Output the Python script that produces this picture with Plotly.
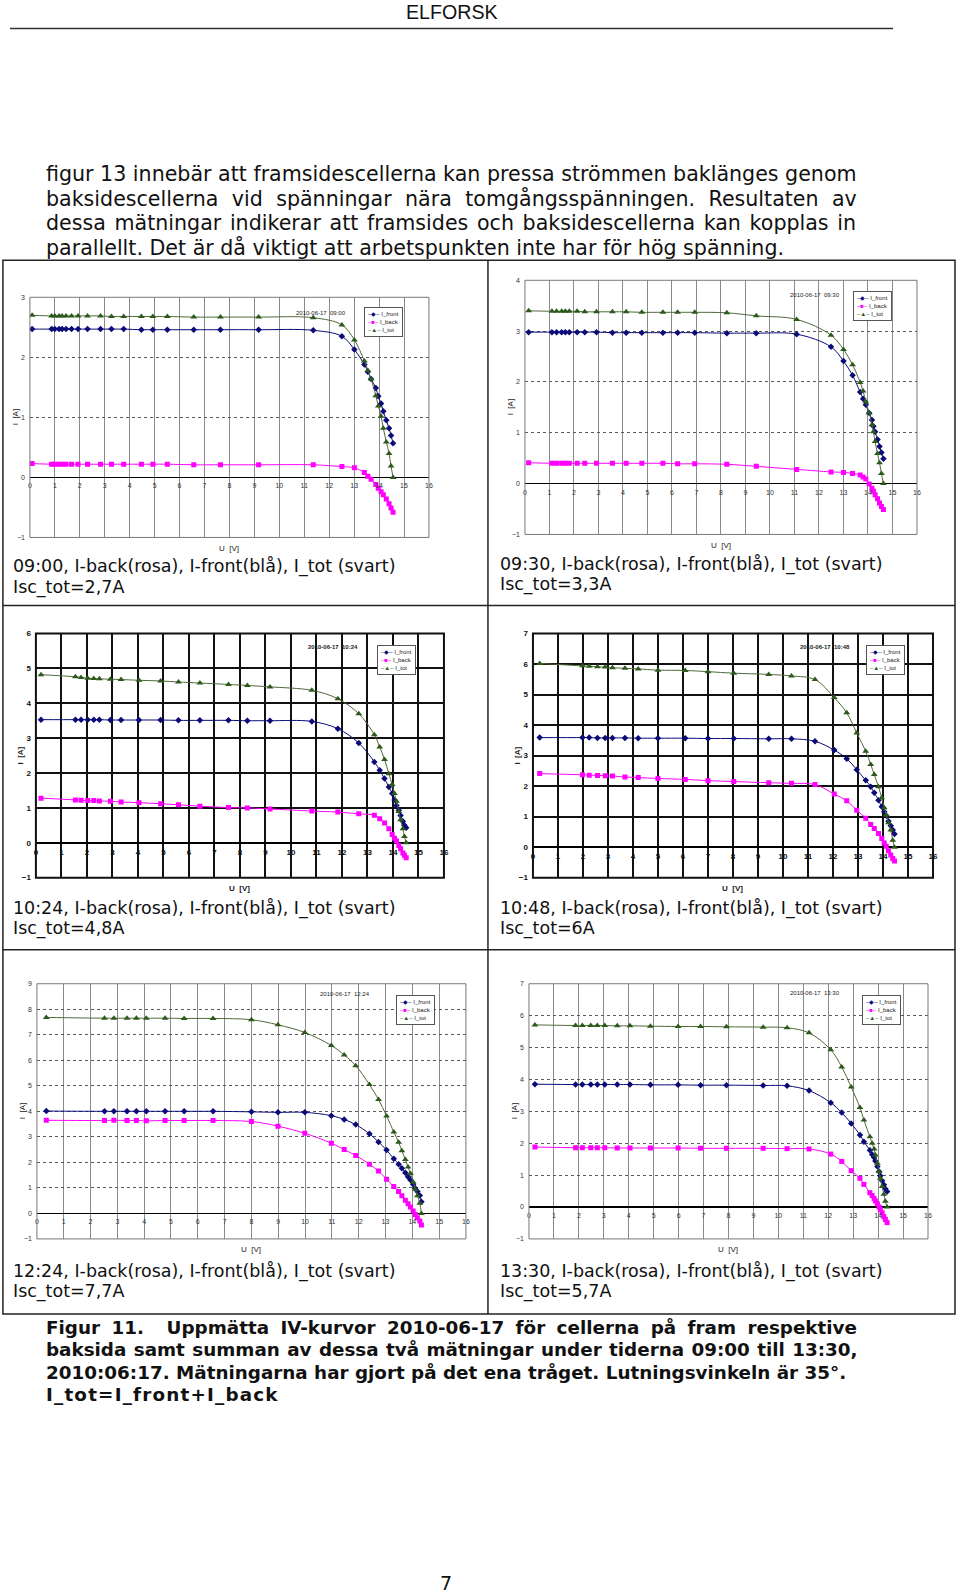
import plotly.graph_objects as go

W, H = 960, 1595

# ---------------- data ----------------
U_0900 = [0.09, 0.87, 1.00, 1.17, 1.29, 1.45, 1.67, 1.93, 2.31, 2.83, 3.27, 3.76, 4.47, 4.93, 5.51, 6.57,
          7.64, 9.17, 11.36, 12.51, 13.01, 13.41, 13.55, 13.68, 13.87, 13.97, 14.08, 14.17, 14.29, 14.40, 14.48, 14.56]
IF_0900 = [2.47, 2.47, 2.47, 2.47, 2.47, 2.47, 2.47, 2.47, 2.47, 2.47, 2.47, 2.47, 2.46, 2.46, 2.46, 2.46,
           2.46, 2.46, 2.45, 2.35, 2.13, 1.88, 1.76, 1.64, 1.49, 1.35, 1.23, 1.10, 0.95, 0.82, 0.70, 0.57]
IB_0900 = [0.23, 0.22, 0.22, 0.22, 0.22, 0.22, 0.22, 0.22, 0.22, 0.22, 0.22, 0.22, 0.22, 0.22, 0.22, 0.21,
           0.21, 0.21, 0.21, 0.18, 0.16, 0.08, 0.02, -0.03, -0.12, -0.18, -0.24, -0.29, -0.36, -0.44, -0.51, -0.58]
IT_0900 = [2.70, 2.69, 2.69, 2.69, 2.69, 2.69, 2.69, 2.69, 2.69, 2.69, 2.68, 2.68, 2.68, 2.68, 2.68, 2.67,
           2.67, 2.67, 2.66, 2.54, 2.29, 1.94, 1.78, 1.64, 1.36, 1.19, 1.02, 0.82, 0.59, 0.40, 0.19, 0.00]

U_0930 = [0.15, 1.10, 1.29, 1.50, 1.65, 1.81, 2.13, 2.44, 2.92, 3.57, 4.13, 4.77, 5.63, 6.23, 6.93, 8.24,
          9.44, 11.09, 12.49, 13.00, 13.37, 13.68, 13.80, 13.91, 14.05, 14.16, 14.22, 14.29, 14.39, 14.47, 14.55, 14.63]
IF_0930 = [2.98, 2.98, 2.98, 2.98, 2.98, 2.98, 2.98, 2.98, 2.98, 2.97, 2.97, 2.97, 2.97, 2.97, 2.97, 2.96,
           2.96, 2.94, 2.69, 2.41, 2.13, 1.80, 1.67, 1.55, 1.39, 1.25, 1.13, 1.02, 0.87, 0.73, 0.61, 0.49]
IB_0930 = [0.41, 0.40, 0.40, 0.40, 0.40, 0.40, 0.40, 0.40, 0.40, 0.40, 0.40, 0.40, 0.40, 0.39, 0.39, 0.38,
           0.34, 0.28, 0.23, 0.22, 0.20, 0.17, 0.13, 0.09, -0.01, -0.09, -0.15, -0.22, -0.30, -0.38, -0.45, -0.51]
IT_0930 = [3.40, 3.39, 3.39, 3.39, 3.39, 3.39, 3.39, 3.38, 3.38, 3.38, 3.38, 3.37, 3.37, 3.37, 3.37, 3.36,
           3.30, 3.23, 2.92, 2.64, 2.34, 1.99, 1.82, 1.61, 1.39, 1.16, 1.02, 0.83, 0.59, 0.41, 0.20, 0.00]

U_1024 = [0.20, 1.55, 1.77, 2.03, 2.27, 2.49, 2.92, 3.34, 4.04, 4.89, 5.59, 6.43, 7.55, 8.29, 9.18, 10.82,
          11.84, 12.66, 13.27, 13.48, 13.67, 13.84, 13.97, 14.06, 14.14, 14.23, 14.30, 14.39, 14.45, 14.52]
IF_1024 = [3.53, 3.53, 3.53, 3.53, 3.53, 3.53, 3.52, 3.52, 3.52, 3.52, 3.51, 3.51, 3.51, 3.50, 3.50, 3.48,
           3.27, 2.86, 2.32, 2.08, 1.84, 1.60, 1.41, 1.23, 1.07, 0.93, 0.78, 0.62, 0.50, 0.43]
IB_1024 = [1.28, 1.23, 1.22, 1.21, 1.21, 1.20, 1.19, 1.17, 1.15, 1.12, 1.09, 1.05, 1.01, 1.00, 0.97, 0.91,
           0.88, 0.83, 0.79, 0.69, 0.57, 0.40, 0.24, 0.13, 0.05, -0.08, -0.17, -0.29, -0.36, -0.43]
IT_1024 = [4.82, 4.76, 4.74, 4.72, 4.71, 4.70, 4.69, 4.68, 4.66, 4.64, 4.61, 4.58, 4.54, 4.51, 4.47, 4.37,
           4.13, 3.70, 3.10, 2.75, 2.39, 1.98, 1.67, 1.41, 1.19, 0.90, 0.66, 0.40, 0.18, 0.00]

U_1048 = [0.27, 1.98, 2.25, 2.58, 2.89, 3.18, 3.68, 4.21, 5.00, 6.09, 7.00, 8.03, 9.43, 10.34, 11.28,
          12.05, 12.55, 12.95, 13.31, 13.51, 13.65, 13.82, 13.95, 14.05, 14.13, 14.22, 14.31, 14.39, 14.46]
IF_1048 = [3.59, 3.59, 3.59, 3.58, 3.58, 3.58, 3.58, 3.57, 3.57, 3.57, 3.56, 3.56, 3.55, 3.55, 3.47,
           3.18, 2.90, 2.54, 2.19, 1.98, 1.78, 1.54, 1.32, 1.16, 1.03, 0.85, 0.70, 0.56, 0.43]
IB_1048 = [2.41, 2.37, 2.36, 2.35, 2.34, 2.33, 2.30, 2.28, 2.25, 2.22, 2.18, 2.15, 2.11, 2.09, 2.05,
           1.74, 1.52, 1.21, 0.95, 0.74, 0.61, 0.45, 0.28, 0.14, 0.03, -0.12, -0.26, -0.37, -0.45]
IT_1048 = [6.02, 5.94, 5.93, 5.91, 5.90, 5.88, 5.86, 5.84, 5.80, 5.79, 5.75, 5.70, 5.66, 5.61, 5.49,
           4.90, 4.40, 3.74, 3.14, 2.71, 2.38, 1.98, 1.62, 1.29, 1.05, 0.80, 0.56, 0.23, 0.00]

U_1224 = [0.35, 2.52, 2.87, 3.36, 3.71, 4.08, 4.78, 5.49, 6.57, 8.00, 8.99, 9.99, 10.98, 11.46, 11.89,
          12.40, 12.74, 13.04, 13.31, 13.49, 13.61, 13.74, 13.84, 13.93, 14.03, 14.11, 14.19, 14.28, 14.34]
IF_1224 = [4.01, 4.00, 4.00, 4.00, 4.00, 4.00, 4.00, 4.00, 4.00, 3.98, 3.96, 3.96, 3.83, 3.68, 3.48,
           3.12, 2.80, 2.48, 2.14, 1.93, 1.77, 1.59, 1.44, 1.31, 1.14, 0.99, 0.86, 0.70, 0.46]
IB_1224 = [3.65, 3.64, 3.65, 3.64, 3.64, 3.63, 3.64, 3.64, 3.64, 3.60, 3.42, 3.14, 2.75, 2.50, 2.27,
           1.93, 1.66, 1.34, 1.05, 0.86, 0.69, 0.52, 0.38, 0.25, 0.09, -0.04, -0.17, -0.30, -0.45]
IT_1224 = [7.68, 7.65, 7.65, 7.65, 7.65, 7.65, 7.65, 7.64, 7.64, 7.59, 7.39, 7.09, 6.58, 6.21, 5.79,
           5.05, 4.46, 3.82, 3.19, 2.79, 2.46, 2.11, 1.82, 1.56, 1.23, 0.95, 0.69, 0.40, 0.00]

U_1330 = [0.24, 1.87, 2.14, 2.48, 2.74, 3.04, 3.54, 4.05, 4.87, 5.98, 6.88, 7.92, 9.39, 10.35, 11.23, 12.10,
          12.54, 12.92, 13.27, 13.43, 13.67, 13.76, 13.84, 13.89, 13.97, 14.04, 14.09, 14.16, 14.23, 14.29, 14.36]
IF_1330 = [3.85, 3.84, 3.84, 3.84, 3.84, 3.84, 3.84, 3.84, 3.83, 3.83, 3.82, 3.82, 3.81, 3.80, 3.65, 3.27,
           2.96, 2.62, 2.26, 2.05, 1.78, 1.65, 1.55, 1.44, 1.27, 1.11, 0.98, 0.82, 0.70, 0.57, 0.49]
IB_1330 = [1.88, 1.86, 1.86, 1.86, 1.86, 1.86, 1.85, 1.85, 1.85, 1.85, 1.84, 1.84, 1.84, 1.83, 1.82, 1.66,
           1.43, 1.14, 0.90, 0.71, 0.45, 0.36, 0.27, 0.19, 0.10, 0.00, -0.08, -0.18, -0.30, -0.39, -0.49]
IT_1330 = [5.71, 5.69, 5.69, 5.69, 5.69, 5.69, 5.68, 5.68, 5.67, 5.66, 5.66, 5.65, 5.64, 5.62, 5.46, 4.93,
           4.39, 3.76, 3.12, 2.73, 2.20, 2.00, 1.82, 1.63, 1.37, 1.11, 0.90, 0.64, 0.40, 0.18, 0.00]

TIMES = ["09:00", "09:30", "10:24", "10:48", "12:24", "13:30"]
ISC_TOT = ["2,7", "3,3", "4,8", "6", "7,7", "5,7"]
Y_MAX = [3, 4, 6, 7, 9, 7]
SERIES_NAMES = ["I_front", "I_back", "I_tot"]
X_MAX = 16
DATE = "2010-06-17"

DATA = [
    (U_0900, IF_0900, IB_0900, IT_0900),
    (U_0930, IF_0930, IB_0930, IT_0930),
    (U_1024, IF_1024, IB_1024, IT_1024),
    (U_1048, IF_1048, IB_1048, IT_1048),
    (U_1224, IF_1224, IB_1224, IT_1224),
    (U_1330, IF_1330, IB_1330, IT_1330),
]

PARAGRAPH = [
    "figur 13 innebär att framsidescellerna kan pressa strömmen baklänges genom",
    "baksidescellerna vid spänningar nära tomgångsspänningen. Resultaten av",
    "dessa mätningar indikerar att framsides och baksidescellerna kan kopplas in",
    "parallellt. Det är då viktigt att arbetspunkten inte har för hög spänning.",
]
FIG_CAPTION = [
    "Figur 11.  Uppmätta IV-kurvor 2010-06-17 för cellerna på fram respektive",
    "baksida samt summan av dessa två mätningar under tiderna 09:00 till 13:30,",
    "2010:06:17. Mätningarna har gjort på det ena tråget. Lutningsvinkeln är 35°.",
    "I_tot=I_front+I_back",
]

# ---------------- layout / style ----------------
FRONT_C = "#0a0a78"
BACK_C = "#ff00ff"
TOT_MC = "#2c5a1c"
TOT_LC = "#50683a"
TEXT_FONT = "DejaVu Sans"
CHART_FONT = "Liberation Sans"

# the photographed page comes out slightly shrunk and offset; positions below are
# target page pixels and are mapped through this correction
OX, OY, SX, SY = 2.1, 3.9, 0.9926, 0.9937
KF = 1 / SX

# plot boxes in page pixels: left, right, top, bottom
BOXES = [
    (30, 429, 297, 537),
    (525, 917, 280, 534),
    (36, 444, 633, 877),
    (533, 933, 633, 877),
    (37, 466, 983, 1238),
    (529, 928, 983, 1238),
]
HEAVY = [False, False, True, True, False, False]
LEGEND_POS = [(364, 307), (853, 291), (377, 644), (866, 644), (396, 994), (862, 994)]
DATE_POS = [(321, 313), (815, 295), (333, 646), (825, 646), (345, 993), (815, 992)]
CAPTION_Y = [(566.5, 587), (564.5, 584), (908, 927.5), (908, 927.5), (1270.5, 1290.6), (1270.5, 1290.6)]
CAPTION_X = [11, 498, 11, 498, 11, 498]


def fx(x):
    return min(max((x - OX) / SX / W, 0.0), 1.0)


def fy(y):
    return min(max(1 - (y - OY) / SY / H, 0.0), 1.0)


fig = go.Figure()
annotations = []
shapes = []
layout = {}

for i, (u, i_f, i_b, i_t) in enumerate(DATA):
    n = i + 1
    xa = "x" if n == 1 else f"x{n}"
    ya = "y" if n == 1 else f"y{n}"
    heavy = HEAVY[i]
    for name, vals, mcol, lcol, sym, ms in [
        (SERIES_NAMES[0], i_f, FRONT_C, FRONT_C, "diamond", 5),
        (SERIES_NAMES[1], i_b, BACK_C, BACK_C, "square", 5),
        (SERIES_NAMES[2], i_t, TOT_MC, TOT_LC, "triangle-up", 6),
    ]:
        fig.add_trace(go.Scatter(
            x=u, y=vals, xaxis=xa, yaxis=ya, name=name, showlegend=False, hoverinfo="skip",
            mode="lines+markers",
            line=dict(color=lcol, width=1.0, shape="spline", smoothing=1.0),
            marker=dict(symbol=sym, size=ms, color=mcol, line=dict(width=0)),
        ))

    left, right, top, bottom = BOXES[i]
    ydom = [fy(bottom), fy(top)]
    xdom = [fx(left), fx(right)]
    ymin, ymax = -1, Y_MAX[i]
    zero_pos = ydom[0] + (0 - ymin) / (ymax - ymin) * (ydom[1] - ydom[0])

    gridc = "#111111" if heavy else "#8a8a8a"
    gridw = 2 if heavy else 1
    tickfont = dict(family=CHART_FONT, size=8 if heavy else 7, color="#111" if heavy else "#333",
                    weight=700 if heavy else 400)

    layout["xaxis" if n == 1 else f"xaxis{n}"] = dict(
        domain=xdom, range=[0, X_MAX], tick0=0, dtick=1, anchor="free", position=zero_pos,
        showgrid=True, gridcolor=gridc, gridwidth=gridw, zeroline=False, showline=False,
        ticks="", tickfont=tickfont, ticklabelstandoff=3, fixedrange=True,
    )
    layout["yaxis" if n == 1 else f"yaxis{n}"] = dict(
        domain=ydom, range=[ymin, ymax], tick0=0, dtick=1, anchor=xa,
        showgrid=True, gridcolor="#111111" if heavy else "#5a5a5a", gridwidth=gridw,
        griddash="solid" if heavy else "dot",
        zeroline=True, zerolinecolor="#000", zerolinewidth=2.5 if heavy else 1.3,
        showline=False, ticks="", tickfont=tickfont, ticklabelstandoff=4, fixedrange=True,
    )
    # plot frame
    shapes.append(dict(type="rect", xref=f"{xa} domain", yref=f"{ya} domain", x0=0, x1=1, y0=0, y1=1,
                       line=dict(color="#111" if heavy else "#777", width=2 if heavy else 1), layer="above"))

    tfont = dict(family=CHART_FONT, size=8, color="#222", weight=700 if heavy else 400)
    # axis titles
    annotations.append(dict(text="U  [V]", xref="paper", yref="paper", x=(xdom[0] + xdom[1]) / 2,
                            y=ydom[0], yshift=-11, xanchor="center", yanchor="middle",
                            showarrow=False, font=tfont))
    annotations.append(dict(text="I  [A]", xref="paper", yref="paper", x=xdom[0], xshift=-15,
                            y=(ydom[0] + ydom[1]) / 2, textangle=-90, xanchor="center", yanchor="middle",
                            showarrow=False, font=tfont))
    # date label
    dx, dy = DATE_POS[i]
    annotations.append(dict(text=f"{DATE}\u00a0\u00a0{TIMES[i]}", xref="paper", yref="paper",
                            x=fx(dx), y=fy(dy), xanchor="center", yanchor="middle", showarrow=False,
                            font=dict(family=CHART_FONT, size=6, color="#222", weight=700 if heavy else 400)))
    # legend box
    lx, ly = LEGEND_POS[i]
    leg = (f'<span style="color:{FRONT_C}">–◆–</span> {SERIES_NAMES[0]}<br>'
           f'<span style="color:{BACK_C}">–■–</span> {SERIES_NAMES[1]}<br>'
           f'<span style="color:{TOT_MC}">–▲–</span> {SERIES_NAMES[2]}')
    annotations.append(dict(text=leg, xref="paper", yref="paper", x=fx(lx), y=fy(ly),
                            xanchor="left", yanchor="top", align="left", showarrow=False,
                            bgcolor="white", bordercolor="#555", borderwidth=1, borderpad=3,
                            font=dict(family=CHART_FONT, size=6, color="#222")))
    # cell caption
    cy1, cy2 = CAPTION_Y[i]
    for txt, cy in [(f"{TIMES[i]}, I-back(rosa), I-front(blå), I_tot (svart)", cy1),
                    (f"Isc_tot={ISC_TOT[i]}A", cy2)]:
        annotations.append(dict(text=txt, xref="paper", yref="paper", x=fx(CAPTION_X[i]), y=fy(cy),
                                xanchor="left", yanchor="middle", showarrow=False,
                                font=dict(family=TEXT_FONT, size=17.35 * KF, color="#111")))

# page text
annotations.append(dict(text="ELFORSK", xref="paper", yref="paper", x=fx(452), y=fy(12.2),
                        xanchor="center", yanchor="middle", showarrow=False,
                        font=dict(family=CHART_FONT, size=19.5 * KF, color="#111")))
para_ws = [0.0, 6.8, 2.1, 0]
for k, (line, ws) in enumerate(zip(PARAGRAPH, para_ws)):
    annotations.append(dict(text=f'<span style="word-spacing:{ws * KF:.2f}px">{line}</span>', xref="paper",
                            yref="paper", x=fx(44), y=fy(174 + 24.4 * k), xanchor="left", yanchor="middle",
                            showarrow=False, font=dict(family=TEXT_FONT, size=20.45 * KF, color="#111")))
cap_styles = ["word-spacing:5.0px", "word-spacing:1.0px", "word-spacing:0px", "letter-spacing:1.2px"]
for k, (line, st) in enumerate(zip(FIG_CAPTION, cap_styles)):
    annotations.append(dict(text=f'<span style="{st}">{line}</span>', xref="paper", yref="paper",
                            x=fx(44), y=fy(1326.5 + 22.4 * k), xanchor="left", yanchor="middle",
                            showarrow=False, font=dict(family=TEXT_FONT, size=18.2 * KF, color="#111",
                                                       weight=700)))
annotations.append(dict(text="7", xref="paper", yref="paper", x=fx(446), y=fy(1582),
                        xanchor="center", yanchor="middle", showarrow=False,
                        font=dict(family=TEXT_FONT, size=19 * KF, color="#111")))

# header rule and table borders
rule = dict(color="#333", width=1.5)
shapes.append(dict(type="line", xref="paper", yref="paper", x0=fx(10), x1=fx(893), y0=fy(28.5), y1=fy(28.5),
                   line=rule))
tb = dict(color="#222", width=1.5)
TABLE_L, TABLE_R, TABLE_T, TABLE_B = 3, 955.5, 260, 1313
shapes.append(dict(type="rect", xref="paper", yref="paper", x0=fx(TABLE_L), x1=fx(TABLE_R), y0=fy(TABLE_B),
                   y1=fy(TABLE_T), line=tb))
shapes.append(dict(type="line", xref="paper", yref="paper", x0=fx(488), x1=fx(488), y0=fy(TABLE_B),
                   y1=fy(TABLE_T), line=tb))
for yy in (605, 949):
    shapes.append(dict(type="line", xref="paper", yref="paper", x0=fx(TABLE_L), x1=fx(TABLE_R), y0=fy(yy),
                       y1=fy(yy), line=tb))

fig.update_layout(
    width=W, height=H, margin=dict(l=0, r=0, t=0, b=0),
    paper_bgcolor="white", plot_bgcolor="white", hovermode=False,
    showlegend=False, annotations=annotations, shapes=shapes, **layout,
)

fig.write_html(
    "out.html",
    config={"displayModeBar": False, "staticPlot": True},
    post_script="document.body.style.margin='0';document.body.style.padding='0';"
                "document.body.style.overflow='hidden';"
                "document.documentElement.style.overflow='hidden';",
)
